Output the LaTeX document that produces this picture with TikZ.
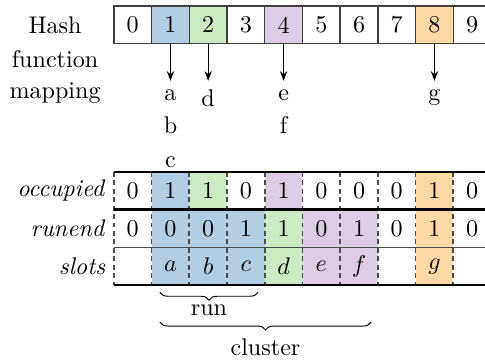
\documentclass[tikz,border=0pt]{standalone}
\usetikzlibrary{arrows.meta,positioning,decorations.pathreplacing}
\definecolor{runblue}{HTML}{B3CDE3}
\definecolor{rungreen}{HTML}{CCEBC5}
\definecolor{runpurple}{HTML}{DECBE4}
\definecolor{runorange}{HTML}{FED9A6}
\tikzset{
	bucket/.style={draw=black!75,line width=0.6pt,minimum size=0.55cm,inner sep=0},
	slotline/.style={black!70,line width=0.7pt,dash pattern=on 2pt off 1.5pt},
	keybrace/.style={decorate,decoration={brace,mirror,amplitude=3.3pt}},
}
\begin{document}
\begin{tikzpicture}[x=0.55cm,y=0.55cm]
			\useasboundingbox (-3.02,0.16) rectangle (9.84,-9.44);
			\clip (-3.02,0.16) rectangle (9.84,-9.44);
			\foreach \x/\c in {0/white,1/runblue,2/rungreen,3/white,4/runpurple,5/white,6/white,7/white,8/runorange,9/white}
				\node[bucket,fill=\c] (h\x) at (\x+0.5,-0.5) {\x};
			\node[align=center,anchor=north] (hashlbl) at (-1.56,-0.07) {Hash\\[2pt] function\\[1pt] mapping};
			
			\node[below=0.53cm of h1,align=center] (abc) {a\\[2pt]b\\[2pt]c};
			\node[below=0.53cm of h2] (d) {d};
			\node[below=0.53cm of h4,align=center] (ef) {e\\[2pt]f};
			\node[below=0.53cm of h8] (g) {g};
			\foreach \i/\k in {1/abc,2/d,4/ef,8/g}
				\draw[-{Stealth[length=4pt,width=3pt]}] (h\i) -- (\k);
			
			\foreach \x/\c in {1/runblue,2/rungreen,4/runpurple,8/runorange}
				\fill[\c] (\x,-4.4) rectangle ++(1,-1);
			\foreach \x/\c in {1/runblue,2/runblue,3/runblue,4/rungreen,5/runpurple,6/runpurple,8/runorange}
				\fill[\c] (\x,-5.4) rectangle ++(1,-2);
			\draw[slotline] foreach \x in {0,...,10}{(\x,-4.4) -- (\x,-7.4)};
			\draw[line width=1pt] (0,-4.4) -- (10,-4.4) (0,-5.4) -- (10,-5.4) (0,-7.4) -- (10,-7.4);
			\draw[black!70,line width=0.5pt] (0,-6.4) -- (10,-6.4);
			
			\node[anchor=east] (occlbl) at (0,-4.9) {\textit{occupied}};
			\node[anchor=east] (endlbl) at (0,-5.9) {\textit{runend}};
			\node[anchor=east] (slotlbl) at (0,-6.9) {\textit{slots}};
			\foreach \v [count=\x from 0] in {0,1,1,0,1,0,0,0,1,0}
				\node (o\x) at (\x+0.5,-4.9) {\v};
			\foreach \v [count=\x from 0] in {0,0,0,1,1,0,1,0,1,0}
				\node (r\x) at (\x+0.5,-5.9) {\v};
			\foreach \x/\v in {1/a,2/b,3/c,4/d,5/e,6/f,8/g}
				\node (s\x) at (\x+0.5,-6.9) {$\v$};
			
			\draw[keybrace] (1.22,-7.59) -- (3.82,-7.59);
			\node (runlbl) at (2.52,-8.06) {run};
			\draw[keybrace] (1.22,-8.38) -- (6.82,-8.38);
			\node (clusterlbl) at (4.02,-9.05) {cluster};
		\end{tikzpicture}
\end{document}
